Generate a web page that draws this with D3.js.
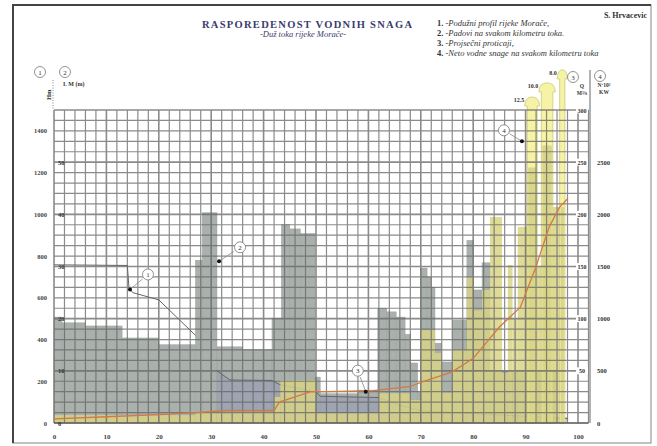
<!DOCTYPE html>
<html>
<head>
<meta charset="utf-8">
<script src="https://cdn.jsdelivr.net/npm/d3@7"></script>
<style>
body { margin: 0; background: #fff; }
svg text { font-family: "Liberation Serif", "DejaVu Serif", serif; fill: #333; }
</style>
</head>
<body>
<div id="chart"></div>
<script>
// 2 - padovi na svakom km (m/km), step bars: boundaries in km + value
var padKm  = [0, 1.5, 6, 13, 20, 27, 28.3, 31.1, 36, 41.6, 43.4, 45, 47, 49.8, 50.8, 58, 61.8, 63.5, 65.3, 67, 68, 69.4, 70, 71.2, 72, 72.7, 73.9, 76.1, 78.8, 80, 81.7, 83.2, 96];
var padVal = [20.3, 19.2, 18.6, 16.3, 15.0, 31.2, 40.3, 14.6, 14.1, 20.1, 38, 37.2, 36.3, 8.8, 5.6, 6.3, 22.0, 21.3, 20.3, 17, 11.5, 6, 29.7, 28, 26, 15.3, 11.7, 19.7, 35, 25.5, 30.7, 10];

// 4 - neto vodne snage (kW) per km
var nKm  = [0, 27, 31, 42, 43.2, 50, 62, 68, 70, 72.7, 74, 76.1, 78.8, 80, 81.7, 83.2, 85.5, 86.6, 87.5, 88.5, 90.3, 92.2, 93, 95.2, 96.5, 97.5];
var nVal = [75, 100, 105, 250, 410, 95, 285, 220, 890, 670, 290, 700, 1400, 1080, 1275, 1975, 480, 1515, 1000, 1880, 3125, 1500, 3260, 2070, 3385];
// olive part inside the overflowing bars, and the values written above them
var nInner = [2450, 2660, 2070];
var nOverLabels = ["12.5", "10.0", "8.0"];

// 3 - prosjecni proticaji (m3/s)
var qKm  = [0, 10, 20, 27, 33, 42, 43, 49, 52, 61, 68, 70, 76, 80, 85, 89, 92, 94.5, 96.5, 98];
var qVal = [4, 6, 8, 10, 12, 12, 20, 30, 30, 31, 35, 39, 49, 62, 92, 111, 150, 188, 207, 215];

// 1 - podužni profil (m n.m.)
var pKm  = [0, 14, 14.3, 15, 20, 27, 28.3, 31.1, 33.6, 41.6, 43, 50, 50.8, 62, 66, 70, 80, 90, 98];
var pVal = [758, 755, 650, 625, 590, 420, 370, 250, 206, 204, 185, 150, 128, 122, 85, 60, 45, 32, 22];

var kmTicks = d3.range(0, 101, 10);
var hTicks = d3.range(0, 1401, 200);
var padTicks = d3.range(0, 51, 10);
var qTicks = d3.range(50, 301, 50);
var nTicks = d3.range(0, 2501, 500);

var legendItems = ["1. -Podužni profil rijeke Morače,", "2. -Padovi na svakom  kilometru toka.", "3. -Projsečni proticaji,", "4. -Neto vodne snage  na svakom kilometru toka"];

var W = 657, H = 446, gTop = 110, gBot = 423;

var x  = d3.scaleLinear().domain([0, 100]).range([54, 578]);
var yH = d3.scaleLinear().domain([0, 1500]).range([gBot, gTop]);
var yP = d3.scaleLinear().domain([0, 60]).range([gBot, gTop]);
var yQ = d3.scaleLinear().domain([0, 300]).range([gBot, gTop]);
var yN = d3.scaleLinear().domain([0, 3000]).range([gBot, gTop]);

function segs(km, val) {
  return val.map(function(v, i) { return {a: km[i], b: km[i + 1], v: v}; });
}

var svg = d3.select("#chart").append("svg").attr("width", W).attr("height", H);
svg.append("rect").attr("width", W).attr("height", H).style("fill", "#fff");

// frame
svg.append("rect").attr("x", 13).attr("y", 5).attr("width", 638).attr("height", 438)
  .style("fill", "none").style("stroke", "#9a9a9a").style("stroke-width", 1.2);
svg.append("path").attr("d", "M13,443V5H651").style("fill", "none").style("stroke", "#444").style("stroke-width", 2);

// headers
svg.append("text").attr("x", 307).attr("y", 28).attr("text-anchor", "middle")
  .style("font-size", "10.5px").style("font-weight", "bold").style("fill", "#3b3b6e")
  .attr("textLength", 210).attr("lengthAdjust", "spacing")
  .text("RASPOREDENOST  VODNIH SNAGA");
svg.append("text").attr("x", 303).attr("y", 37).attr("text-anchor", "middle")
  .style("font-size", "8.5px").style("font-style", "italic").style("fill", "#3b3b6e")
  .text("-Duž toka rijeke Morače-");
svg.append("text").attr("x", 647).attr("y", 18).attr("text-anchor", "end")
  .style("font-size", "8px").style("font-weight", "bold").text("S. Hrvacevic");

var leg = svg.append("g");
legendItems.forEach(function(t, i) {
  var tx = leg.append("text").attr("x", 437).attr("y", 26 + i * 10).style("font-size", "8.5px").style("fill", "#333");
  tx.append("tspan").style("font-weight", "bold").style("fill", "#333").text(t.slice(0, 2) + " ");
  tx.append("tspan").style("font-style", "italic").style("fill", "#333").text(t.slice(3));
});

// profile line (under the bars, as in the original)
svg.append("path").datum(pKm.map(function(k, i) { return [k, pVal[i]]; }))
  .attr("d", d3.line().x(function(d) { return x(d[0]); }).y(function(d) { return yH(d[1]); }))
  .style("fill", "none").style("stroke", "#666").style("stroke-width", 1);

// gray bars (padovi)
svg.append("g").selectAll("rect").data(segs(padKm, padVal)).enter().append("rect")
  .attr("x", function(d) { return x(d.a); })
  .attr("width", function(d) { return x(d.b) - x(d.a); })
  .attr("y", function(d) { return yP(d.v); })
  .attr("height", function(d) { return gBot - yP(d.v); })
  .style("fill", "#aab1ad").style("stroke", "#9aa29e").style("stroke-width", 0.5);

// tint under the profile in the lower river
var pLow = pKm.map(function(k, i) { return [k, pVal[i]]; }).filter(function(d) { return d[0] >= 31; });
svg.append("path").datum(pLow)
  .attr("d", d3.area().x(function(d) { return x(d[0]); }).y0(gBot).y1(function(d) { return yH(d[1]); }))
  .style("fill", "#8c92b6").style("opacity", 0.4);
svg.append("path").datum(pLow)
  .attr("d", d3.line().x(function(d) { return x(d[0]); }).y(function(d) { return yH(d[1]); }))
  .style("fill", "none").style("stroke", "#666").style("stroke-width", 1);

// power bars
var nSegs = segs(nKm, nVal);
var over = nSegs.filter(function(d) { return d.v > 3000; });
var normal = nSegs.filter(function(d) { return d.v <= 3000; });

svg.append("g").selectAll("rect").data(normal).enter().append("rect")
  .attr("x", function(d) { return x(d.a); })
  .attr("width", function(d) { return x(d.b) - x(d.a); })
  .attr("y", function(d) { return yN(d.v); })
  .attr("height", function(d) { return gBot - yN(d.v); })
  .style("fill", "#d8d486").style("opacity", 0.85);

var og = svg.append("g");
og.selectAll("path").data(over).enter().append("path")
  .attr("d", function(d) {
    var xa = x(d.a), xb = x(d.b), t = yN(d.v), m = (xa + xb) / 2;
    return "M" + xa + "," + gBot + "V" + (t + 9) + "H" + (xa - 2.5) +
      "Q" + (xa - 2) + "," + t + " " + m + "," + t + "Q" + (xb + 2) + "," + t + " " + (xb + 2.5) + "," + (t + 9) +
      "H" + xb + "V" + gBot + "Z";
  })
  .style("fill", "#f6f3a4").style("stroke", "#cfc77a").style("stroke-width", 0.8);
og.selectAll("rect").data(over).enter().append("rect")
  .attr("x", function(d) { return x(d.a) + 1; })
  .attr("width", function(d) { return x(d.b) - x(d.a) - 2; })
  .attr("y", function(d, i) { return yN(nInner[i]); })
  .attr("height", function(d, i) { return gBot - yN(nInner[i]); })
  .style("fill", "#d6d386").style("opacity", 0.9);
og.selectAll("text").data(over).enter().append("text")
  .attr("x", function(d) { return x(d.a) - 3; })
  .attr("y", function(d) { return yN(d.v) + 5; })
  .attr("text-anchor", "end").style("font-size", "6px").style("font-weight", "bold")
  .text(function(d, i) { return nOverLabels[i]; });

// grid
var grid = svg.append("g").style("stroke", "#656565").style("opacity", 0.75);
grid.selectAll("line.v").data(d3.range(0, 103, 2)).enter().append("line")
  .attr("x1", function(d) { return x(d); }).attr("x2", function(d) { return x(d); })
  .attr("y1", gTop).attr("y2", gBot)
  .style("stroke-width", function(d) { return d % 10 == 0 ? 1.6 : 1.2; });
grid.selectAll("line.h").data(d3.range(0, 1501, 50)).enter().append("line")
  .attr("x1", x(0)).attr("x2", x(102))
  .attr("y1", function(d) { return yH(d); }).attr("y2", function(d) { return yH(d); })
  .style("stroke-width", function(d) { return d % 250 == 0 ? 1.6 : 1.2; });

// discharge line
svg.append("path").datum(qKm.map(function(k, i) { return [k, qVal[i]]; }))
  .attr("d", d3.line().x(function(d) { return x(d[0]); }).y(function(d) { return yQ(d[1]); }))
  .style("fill", "none").style("stroke", "#d27a44").style("stroke-width", 1.3);

// axes
var ax = svg.append("g").attr("transform", "translate(0," + (gBot + 8) + ")")
  .call(d3.axisBottom(x).tickValues(kmTicks).tickSize(0));
ax.select(".domain").remove();
ax.selectAll("text").style("font-size", "7px").style("font-weight", "bold")
  .style("font-family", "Liberation Serif").style("fill", "#444");
svg.append("line").attr("x1", x(0)).attr("x2", x(102)).attr("y1", gBot).attr("y2", gBot)
  .style("stroke", "#555").style("stroke-width", 1.2);
svg.append("line").attr("x1", 590).attr("x2", 590).attr("y1", 70).attr("y2", gBot)
  .style("stroke", "#666").style("stroke-width", 1);
svg.append("line").attr("x1", 53).attr("x2", 53).attr("y1", 80).attr("y2", gTop)
  .style("stroke", "#888").style("stroke-dasharray", "1,1.5");

var ah = svg.append("g").attr("transform", "translate(47,0)")
  .call(d3.axisLeft(yH).tickValues(hTicks).tickSize(0).tickPadding(0).tickFormat(d3.format("d")));
ah.select(".domain").remove();
ah.selectAll("text").style("font-size", "6.5px").style("font-weight", "bold")
  .style("font-family", "Liberation Serif").style("fill", "#444");

svg.append("g").selectAll("text").data(padTicks).enter().append("text")
  .attr("x", 58).attr("y", function(d) { return yP(d) + 2.5; })
  .style("font-size", "6.5px").style("font-weight", "bold").text(function(d) { return d; });

var aq = svg.append("g").selectAll("g").data(qTicks).enter().append("g")
  .attr("transform", function(d) { return "translate(582," + yQ(d) + ")"; });
aq.append("rect").attr("x", -6).attr("y", -3.5).attr("width", 12).attr("height", 7).style("fill", "#fff");
aq.append("text").attr("y", 2.5).attr("text-anchor", "middle")
  .style("font-size", "6px").style("font-weight", "bold").text(function(d) { return d; });

svg.append("g").selectAll("text").data(nTicks).enter().append("text")
  .attr("x", 597).attr("y", function(d) { return yN(d) + 2.5; })
  .style("font-size", "6.5px").style("font-weight", "bold").text(function(d) { return d; });

// axis headers
function circ(g, cx, cy, t) {
  g.append("circle").attr("cx", cx).attr("cy", cy).attr("r", 5.5)
    .style("fill", "#fff").style("stroke", "#777").style("stroke-width", 0.8);
  g.append("text").attr("x", cx).attr("y", cy + 2.5).attr("text-anchor", "middle")
    .style("font-size", "7px").text(t);
}
var hd = svg.append("g");
circ(hd, 40, 72, "1");
circ(hd, 65, 72, "2");
circ(hd, 573, 77, "3");
circ(hd, 600, 76, "4");
hd.append("text").attr("transform", "translate(51,100) rotate(-90)").style("font-size", "6.5px")
  .style("font-weight", "bold").text("Hm");
hd.append("text").attr("x", 63).attr("y", 86).style("font-size", "6px").style("font-weight", "bold").text("I. M (m)");
hd.append("text").attr("x", 582).attr("y", 88).attr("text-anchor", "middle").style("font-size", "5.5px").style("font-weight", "bold").text("Q");
hd.append("text").attr("x", 582).attr("y", 95).attr("text-anchor", "middle").style("font-size", "5.5px").style("font-weight", "bold").text("M³/s");
hd.append("text").attr("x", 604).attr("y", 87).attr("text-anchor", "middle").style("font-size", "5.5px").style("font-weight", "bold").text("N·10³");
hd.append("text").attr("x", 604).attr("y", 94).attr("text-anchor", "middle").style("font-size", "5.5px").style("font-weight", "bold").text("KW");

// callouts: target in data units of its own scale, circle offset in px
var callouts = [
  {n: "1", px: x(14.5), py: yH(640), dx: 18, dy: -15},
  {n: "2", px: x(31.5), py: yP(31), dx: 21, dy: -14},
  {n: "3", px: x(59.5), py: yQ(30), dx: -8, dy: -21},
  {n: "4", px: x(89.3), py: yN(2700), dx: -18, dy: -11}
];
var cg = svg.append("g");
callouts.forEach(function(c) {
  cg.append("line").attr("x1", c.px).attr("y1", c.py).attr("x2", c.px + c.dx * 0.7).attr("y2", c.py + c.dy * 0.7)
    .style("stroke", "#888").style("stroke-width", 0.8);
  cg.append("circle").attr("cx", c.px).attr("cy", c.py).attr("r", 2).style("fill", "#111");
  circ(cg, c.px + c.dx, c.py + c.dy, c.n);
});
</script>
</body>
</html>
